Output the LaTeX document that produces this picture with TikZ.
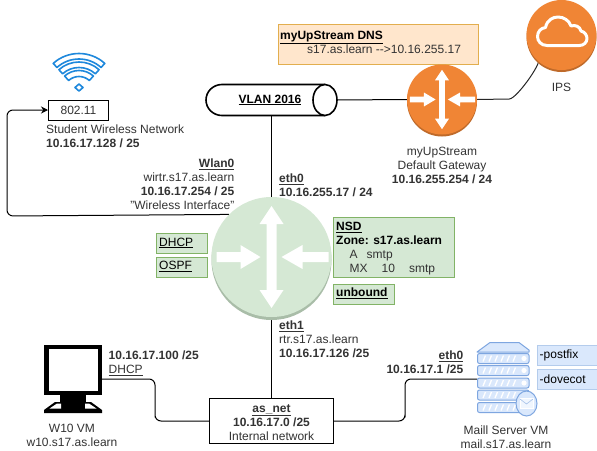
\documentclass[tikz,border=0pt]{standalone}
\usepackage{fontspec}
\setmainfont{Liberation Sans}
\usetikzlibrary{arrows.meta,calc}
\definecolor{txt}{HTML}{333333}
\definecolor{greenfill}{HTML}{D5E8D4}
\definecolor{greenline}{HTML}{82B366}
\definecolor{greenshade}{HTML}{A9BDA8}
\definecolor{orangefill}{HTML}{F08535}
\definecolor{orangeshade}{HTML}{BF6A2A}
\definecolor{bluefill}{HTML}{DAE8FC}
\definecolor{blueline}{HTML}{B4CCEC}
\definecolor{srvline}{HTML}{7EA6E0}
\definecolor{tanfill}{HTML}{FFE6CC}
\definecolor{tanline}{HTML}{E2AE4E}
\definecolor{wifiblue}{HTML}{1E88DC}
\newcommand{\bu}[1]{\textbf{\underline{#1}}}
\newcommand{\ru}[1]{\underline{#1}}
\newcommand{\routerglyph}[3]{%
 \begin{scope}[shift={(#1,#2)},x=#3pt,y=#3pt]
  \fill[white] (0,-51)--(12,-33)--(5,-33)--(5,33)--(12,33)--(0,51)--(-12,33)--(-5,33)--(-5,-33)--(-12,-33)--cycle;
  \fill[white] (-55,-5)--(-31,-5)--(-31,-12)--(-11,0)--(-31,12)--(-31,5)--(-55,5)--cycle;
  \fill[white] (57,-5)--(31,-5)--(31,-12)--(10,0)--(31,12)--(31,5)--(57,5)--cycle;
 \end{scope}}
\tikzset{
 x=1pt,y=-1pt,
 lbl/.style={inner sep=0pt,text=txt,font=\fontsize{12}{14}\selectfont},
 lblL/.style={lbl,anchor=north west,align=left,yshift=-3pt},
 lblR/.style={lbl,anchor=north east,align=right,yshift=-3pt},
 lblC/.style={lbl,anchor=north,align=center,yshift=-3pt},
 wire/.style={draw=black,line width=1pt,rounded corners=6pt},
 plainbox/.style={draw=black,line width=1pt,fill=white,inner sep=0pt},
 greenbox/.style={draw=greenline,line width=.8pt,fill=greenfill,anchor=north west,inner sep=0pt},
 bluebox/.style={draw=blueline,line width=.8pt,fill=bluefill,anchor=north west,inner sep=0pt},
 slab/.style={draw=srvline,line width=1pt,fill=bluefill,rounded corners=2pt},
}
\begin{document}
\begin{tikzpicture}
\useasboundingbox (0,0) rectangle (597,450);
\fill[white] (0,0) rectangle (597,450);

% named anchor nodes
\node[circle,minimum size=120pt,inner sep=0pt] (rtr) at (271.5,257) {};
\node[circle,minimum size=70pt,inner sep=0pt] (gw) at (442,99.5) {};
\node[circle,minimum size=70pt,inner sep=0pt] (ips) at (561.5,35) {};
\node[minimum width=131pt,minimum height=31pt,inner sep=0pt] (vlan) at (271.5,100) {};
\coordinate (w10) at (102,379);
\coordinate (srv) at (477,379);
\coordinate (wlbend) at (7,216);
\coordinate (mleft) at (155,421);
\coordinate (mright) at (405,421);
\node[plainbox,minimum width=60pt,minimum height=20pt] (wifi) at (78.5,110) {};
\node[plainbox,minimum width=124pt,minimum height=45pt] (asnet) at (271.5,421) {};
\node[lblC] at (271.5,401) {\bu{as\_net}\\\textbf{10.16.17.0 /25}\\Internal network};

% connectors
\draw[wire] (vlan.south) -- (rtr.north);
\draw[wire] ([yshift=-3pt]rtr.south) -- (asnet.north);
\draw[wire] (vlan.east) -- (gw.west);
\draw[line width=1pt,draw=black!85] (gw.east) -- ++(32,-.5) .. controls +(8,0) and +(10,-4) .. (ips.225);
\draw[wire,-{Stealth[length=7pt,width=7pt]}] (rtr.135) -- (wlbend) |- (wifi.west);
\draw[wire] (w10) -| (mleft) |- (asnet.west);
\draw[wire] (asnet.east) -| (mright) |- (srv);

% wifi icon
\begin{scope}[shift={(79,92)},x=1pt,y=1pt,draw=wifiblue,line width=1.6pt,line join=round]
 \foreach \ra/\rb in {38.5/33,30/24.5,21.5/15.5}{
  \draw (48:\ra pt) arc[start angle=48,end angle=132,radius=\ra pt] -- (132:\rb pt) arc[start angle=132,end angle=48,radius=\rb pt] -- cycle;
 }
 \draw (0,1) -- (4,4.5) -- (0,8) -- (-4,4.5) -- cycle;
\end{scope}
\node[lbl] at (78.5,110) {802.11};

% VLAN cylinder
\draw[line width=1.6pt,fill=white] (325,84.5) -- (222,84.5) arc[start angle=90,end angle=270,x radius=16pt,y radius=15.5pt] -- (325,115.5);
\draw[line width=1.6pt,fill=white] (325,100) ellipse[x radius=12pt,y radius=15.5pt];
\node[inner sep=0pt,font=\fontsize{12}{14}\selectfont,text=black] at (270,100) {\bu{VLAN 2016}};

% DNS box
\node[draw=tanline,line width=.8pt,fill=tanfill,anchor=north west,minimum width=200pt,minimum height=40pt,inner sep=0pt] (dns) at (277.5,24) {};
\node[lblL,text=black] at (280,28) {\bu{myUpStream DNS}};
\node[lblL] at (307,42) {s17.as.learn -{}->10.16.255.17};

% Gateway router
\fill[orangeshade] (442,101.5) circle[radius=35pt];
\fill[orangefill] (gw.center) circle[radius=35pt];
\routerglyph{442}{99.5}{.583}

% IPS cloud
\fill[orangeshade] (561.5,37) circle[radius=35pt];
\fill[orangefill] (ips.center) circle[radius=35pt];
\draw[white,line width=3pt,line join=round] (547,45.5) .. controls (541,45.5) and (537.5,41) .. (537.5,36.5) .. controls (537.5,31.5) and (541,28) .. (545.5,27.5) .. controls (547,20) and (553,17) .. (558,17) .. controls (564,17) and (569,20.5) .. (571,26) .. controls (575,24.5) and (580,26.5) .. (581,31) .. controls (585,32) and (587,35.5) .. (587,38.5) .. controls (587,42.5) and (583.5,45.5) .. (579.5,45.5) -- cycle;
\node[lblC] at (561.5,80) {IPS};

% Router
\fill[greenshade] (271.5,260) circle[radius=60pt];
\fill[greenfill] (rtr.center) circle[radius=60pt];
\routerglyph{271.5}{257}{1}

% Green boxes
\node[greenbox,minimum width=50.5pt,minimum height=20pt] (dhcp) at (156,233) {};
\node[lbl,text=black,anchor=west] at (159,243) {\ru{DHCP}};
\node[greenbox,minimum width=50.5pt,minimum height=20pt] (ospf) at (156,256.5) {};
\node[lbl,text=black,anchor=west] at (159,266.5) {\ru{OSPF}};
\node[greenbox,minimum width=120.5pt,minimum height=60.5pt] (nsd) at (333,216.5) {};
\node[lblL,text=black] at (336,219) {\bu{NSD}\\\textbf{Zone: s17.as.learn}};
\node[lblL] at (349.5,247) {A\hspace{9pt}smtp\\MX\hspace{14pt}10\hspace{14pt}smtp};
\node[greenbox,minimum width=60.5pt,minimum height=20pt] (unb) at (333,283.5) {};
\node[lbl,text=black,anchor=west] at (336,293.5) {\bu{unbound}};

% Monitor
\fill[black] (44,345) rectangle (102,395);
\fill[white] (48.5,349) rectangle (97.5,391);
\fill[black] (60,395) rectangle (86,402);
\fill[black] (55,402) -- (91,402) -- (102,410) -- (102,413) -- (44,413) -- (44,410) -- cycle;
\fill[white] (49.5,408.5) -- (57,403.5) -- (61,403.5) -- (61,408.5) -- cycle;
\fill[white] (96.5,408.5) -- (89,403.5) -- (85,403.5) -- (85,408.5) -- cycle;

% Server
\draw[srvline,line width=1pt,fill=bluefill,line join=round] (477,352) -- (490,342.5) -- (519,342.5) -- (529,350) -- (529,352) -- cycle;
\foreach \yy in {353.5,365.5,378,390,402.5}{
 \draw[slab] (477.5,\yy) rectangle (529,\yy+10);
 \foreach \xx in {483,489,495,501,507,513}{
  \draw[white,line width=1.3pt] (\xx,\yy+8) -- (\xx+2.5,\yy+2);
 }
 \fill[white] (524,\yy+5) circle[radius=2.6pt];
}
\draw[srvline,line width=1pt,fill=bluefill] (526.5,403.5) ellipse[x radius=10.5pt,y radius=12.5pt];
\draw[white,line width=.8pt,fill=white!60!bluefill] (520,398.5) rectangle (533,408.5);
\draw[srvline!70,line width=.6pt] (520,399) -- (526.5,404) -- (533,399);

% Blue boxes
\node[bluebox,minimum width=60pt,minimum height=20pt] (pfx) at (536.5,345) {};
\node[lbl,text=black,anchor=west] at (539.5,355) {-postfix};
\node[bluebox,minimum width=60pt,minimum height=20pt] (dvc) at (536.5,369) {};
\node[lbl,text=black,anchor=west] at (539.5,379) {-dovecot};

% Labels
\node[lblL] at (46,122) {Student Wireless Network\\\textbf{10.16.17.128 / 25}};
\node[lblR] at (234.5,156) {\bu{Wlan0}\\wirtr.s17.as.learn\\\textbf{10.16.17.254 / 25}\\"Wireless Interface"};
\node[lblL] at (279,171) {\bu{eth0}\\\textbf{10.16.255.17 / 24}};
\node[lblC] at (442,144) {myUpStream\\Default Gateway\\\textbf{10.16.255.254 / 24}};
\node[lblL] at (279,318) {\bu{eth1}\\rtr.s17.as.learn\\\textbf{10.16.17.126 /25}};
\node[lblL] at (108.5,348) {\textbf{10.16.17.100 /25}\\\ru{DHCP}};
\node[lblC] at (72,421) {W10 VM\\w10.s17.as.learn};
\node[lblR] at (463.5,348) {\bu{eth0}\\\textbf{10.16.17.1 /25}};
\node[lblC] at (506,423) {Maill Server VM\\mail.s17.as.learn};
\end{tikzpicture}
\end{document}
